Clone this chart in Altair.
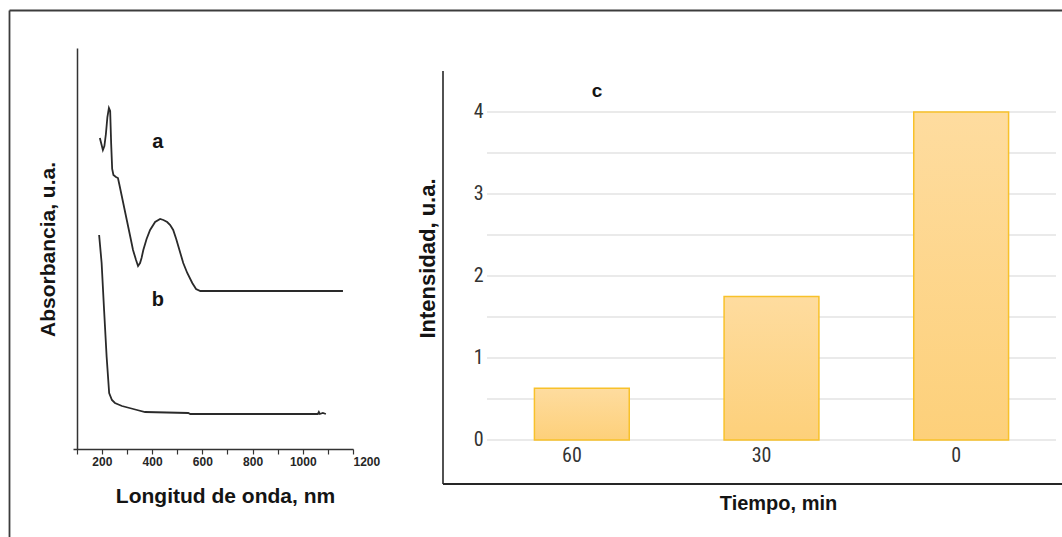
import altair as alt
import pandas as pd

# --- UV-Vis spectra (arbitrary absorbance units) ---
nm_a = [192, 198, 204, 210, 216, 222, 228, 233, 237, 241, 246, 256, 264, 270,
        285, 300, 315, 324, 336, 344, 352, 358, 365, 378, 392, 412, 432, 445,
        460, 472, 484, 496, 510, 524, 540, 560, 575, 592, 1160]
abs_a = [3.11, 3.05, 2.99, 3.03, 3.15, 3.32, 3.41, 3.38, 3.05, 2.80, 2.74, 2.72,
         2.71, 2.64, 2.46, 2.28, 2.10, 1.99, 1.89, 1.83, 1.86, 1.91, 1.99, 2.10,
         2.19, 2.27, 2.30, 2.29, 2.27, 2.24, 2.19, 2.10, 1.98, 1.86, 1.76, 1.66,
         1.60, 1.58, 1.58]

nm_b = [189, 199, 209, 219, 229, 240, 252, 280, 310, 340, 372, 544, 552, 1060,
        1064, 1068, 1080, 1092]
abs_b = [2.14, 1.86, 1.38, 0.92, 0.56, 0.49, 0.46, 0.43, 0.41, 0.39, 0.37, 0.36,
         0.35, 0.35, 0.37, 0.35, 0.36, 0.35]

# --- intensity vs. time ---
tiempo = ["60", "30", "0"]
intensidad = [0.63, 1.75, 4.0]
grid_vals = [0, 0.5, 1, 1.5, 2, 2.5, 3, 3.5, 4]
int_ticks = [0, 1, 2, 3, 4]
nm_ticks = list(range(100, 1300, 100))

spectra = pd.DataFrame({
    "nm": nm_a + nm_b,
    "A": abs_a + abs_b,
    "curva": ["a"] * len(nm_a) + ["b"] * len(nm_b),
})
curve_tags = pd.DataFrame({"nm": [423, 423], "A": [3.07, 1.49], "t": ["a", "b"]})
bars_df = pd.DataFrame({"tiempo": tiempo, "intensidad": intensidad})
grid_df = pd.DataFrame({"g": grid_vals})
one = pd.DataFrame({"k": [0]})

FONT = "Liberation Sans, Arial, Helvetica, sans-serif"
NARROW = "Liberation Sans Narrow, Arial Narrow, Roboto Condensed, Liberation Sans, sans-serif"
INK = "#141414"
LINE = "#333333"

# ---------- left panel: spectra ----------
x_nm = alt.Scale(domain=[85, 1200], range=[73, 353], nice=False, zero=False)
y_abs = alt.Scale(domain=[0, 4.01], range=[449, 48], nice=False, zero=False)

spectra_lines = alt.Chart(spectra).mark_line(color="#2a2a2a", strokeWidth=1.8).encode(
    x=alt.X("nm:Q", scale=x_nm, axis=alt.Axis(
        orient="bottom", offset=-88, values=nm_ticks, format="d",
        labelExpr="datum.value % 200 == 0 ? datum.label : ''",
        labelAlign={"condition": {"test": "datum.value == 1200", "value": "left"}, "value": "center"},
        labelFlush=False, labelFontSize=12, labelFontWeight="bold", labelColor="#262626",
        labelPadding=2, tickSize=5, tickColor=LINE, tickWidth=1.2,
        domainColor=LINE, domainWidth=1.5, grid=False,
        title="Longitud de onda, nm", titleX=225, titleY=47, titleBaseline="middle",
        titleFontSize=21, titleFontWeight="bold", titleColor=INK)),
    y=alt.Y("A:Q", scale=y_abs, axis=alt.Axis(
        orient="left", offset=-77, labels=False, ticks=False, grid=False,
        domainColor=LINE, domainWidth=1.5,
        title="Absorbancia, u.a.", titleX=-29, titleY=249, titleBaseline="middle",
        titleFontSize=21, titleFontWeight="bold", titleColor=INK)),
    detail="curva:N",
)

spectra_tags = alt.Chart(curve_tags).mark_text(
    font=FONT, fontSize=20, fontWeight="bold", color=INK
).encode(
    x=alt.X("nm:Q", scale=x_nm),
    y=alt.Y("A:Q", scale=y_abs),
    text="t:N",
)

left_panel = alt.layer(spectra_lines, spectra_tags)

# ---------- right panel: bars ----------
x_band = alt.Scale(domain=tiempo, range=[487, 1056], paddingInner=0.5, paddingOuter=0.25)
y_int = alt.Scale(domain=[-0.5366, 4.5], range=[484, 71], nice=False, zero=False)

grid = alt.Chart(grid_df).mark_rule(color="#E3E3E3", strokeWidth=1.5).encode(
    y=alt.Y("g:Q", scale=y_int, axis=alt.Axis(
        orient="left", offset=-487, values=int_ticks, format="d",
        domain=False, ticks=False, tickSize=0, grid=False,
        labelPadding=4, labelFont=NARROW, labelFontSize=20, labelColor="#333333",
        title="Intensidad, u.a.", titleX=-60, titleY=258, titleBaseline="middle",
        titleFontSize=22, titleFontWeight="bold", titleColor=INK)),
    x=alt.value(487),
    x2=alt.value(1056),
)

bar_fill = alt.Gradient(
    gradient="linear",
    stops=[alt.GradientStop(color="#FEDC9F", offset=0),
           alt.GradientStop(color="#FDD07A", offset=1)],
    x1=1, x2=1, y1=0, y2=1,
)

bars = alt.Chart(bars_df).mark_bar(fill=bar_fill, stroke="#F8C12A", strokeWidth=1.5).encode(
    x=alt.X("tiempo:N", sort=None, scale=x_band, axis=alt.Axis(
        orient="bottom", offset=-97, domain=False, ticks=False, tickSize=0, grid=False,
        labelAngle=0, labelAlign="right", labelPadding=5,
        labelFont=NARROW, labelFontSize=20, labelColor="#333333",
        title="Tiempo, min", titleX=778, titleY=63, titleBaseline="middle",
        titleFontSize=20, titleFontWeight="bold", titleColor=INK)),
    y=alt.Y("intensidad:Q", scale=y_int),
    y2=alt.Y2(datum=0),
)

panel_tag = alt.Chart(one).mark_text(
    text="c", font=FONT, fontSize=19, fontWeight="bold", color=INK
).encode(x=alt.value(597), y=alt.value(91))

axis_v = alt.Chart(one).mark_rule(color="#262626", strokeWidth=1.6).encode(
    x=alt.value(443), y=alt.value(71), y2=alt.value(484))
axis_h = alt.Chart(one).mark_rule(color="#262626", strokeWidth=2).encode(
    x=alt.value(443), x2=alt.value(1062), y=alt.value(484))

right_panel = alt.layer(grid, bars, panel_tag, axis_v, axis_h)

# ---------- outer frame ----------
frame_top = alt.Chart(one).mark_rule(color="#3c3c3c", strokeWidth=1.8).encode(
    x=alt.value(9.5), x2=alt.value(1062), y=alt.value(10.5))
frame_left = alt.Chart(one).mark_rule(color="#3c3c3c", strokeWidth=1.8).encode(
    x=alt.value(9.5), y=alt.value(10.5), y2=alt.value(537))

chart = (
    alt.layer(frame_top, frame_left, left_panel, right_panel)
    .resolve_scale(x="independent", y="independent")
    .properties(width=1062, height=537, padding=0, autosize=alt.AutoSizeParams(type="none"))
    .configure(background="white", font=FONT)
    .configure_view(stroke=None)
    .configure_axis(labelFont=FONT, titleFont=FONT)
)

chart.save("out.html", embed_options={"renderer": "svg", "actions": False})
